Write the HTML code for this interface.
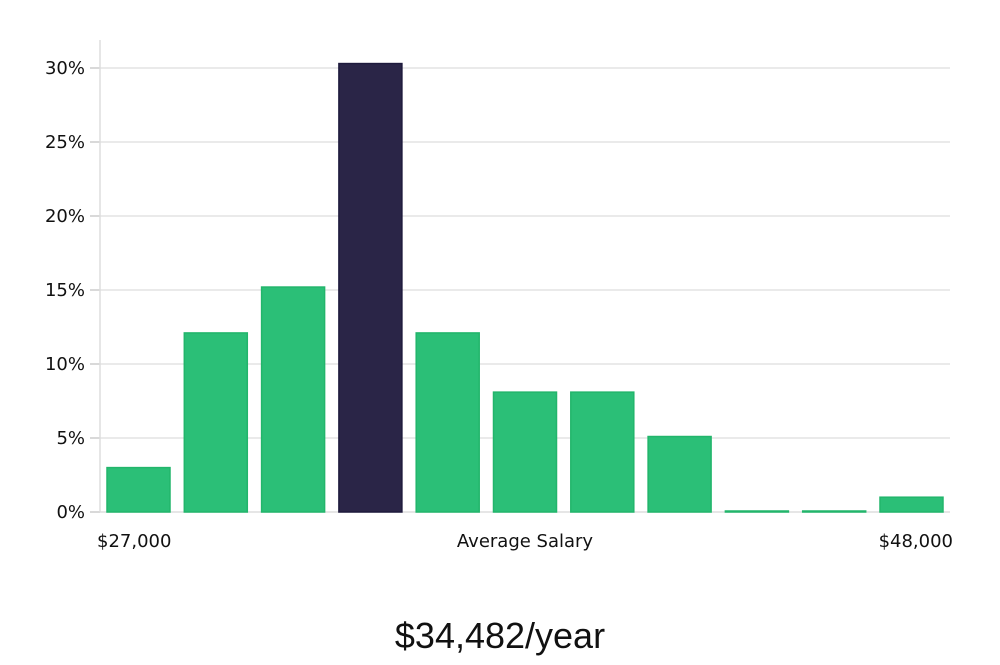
<!DOCTYPE html>
<html><head><meta charset="utf-8"><style>
body{margin:0;background:#fff;width:1000px;height:660px;overflow:hidden}
svg text{font-family:"DejaVu Sans","Liberation Sans",sans-serif}
</style></head><body>
<svg id="chart" width="1000" height="660" xmlns="http://www.w3.org/2000/svg"></svg>
<script>
const categories=["b1","b2","b3","b4","b5","b6","b7","b8","b9","b10","b11"];
const values=[3.0,12.1,15.2,30.3,12.1,8.1,8.1,5.1,0,0,1.0];
const highlight=[false,false,false,true,false,false,false,false,false,false,false];
const yTicks=[0,5,10,15,20,25,30];
const yTickLabels=["0%","5%","10%","15%","20%","25%","30%"];
const NS="http://www.w3.org/2000/svg";
const svg=document.getElementById('chart');
const x0=100,x1=950,yBase=512,pxPer=14.8;
const y=v=>yBase-v*pxPer;
const step=77.3,bw=63,firstX=107;
const xb=i=>firstX+i*step;
function mk(t,a){const e=document.createElementNS(NS,t);for(const k in a)e.setAttribute(k,a[k]);svg.appendChild(e);return e;}
yTicks.forEach((t,i)=>{
 if(t>0){const g=mk('line',{x1:x0,x2:x1,y1:y(t),y2:y(t),stroke:'#e3e3e3','stroke-width':1.5});
 
 }
 const tk=mk('line',{x1:90,x2:x0,y1:y(t),y2:y(t),stroke:'#ccc','stroke-width':1.5});
 
 
 const l=mk('text',{x:85,y:y(t)+6,'text-anchor':'end','font-size':18,fill:'#111'});
 l.textContent=yTickLabels[i];
 
 
});
const ax=mk('line',{x1:x0,x2:x0,y1:40,y2:yBase,stroke:'#ddd','stroke-width':1.5});


const xa=mk('line',{x1:x0,x2:x1,y1:yBase,y2:yBase,stroke:'#ddd','stroke-width':1.5});


values.forEach((v,i)=>{
 const h=Math.max(v*pxPer,1);
 const r=mk('rect',{x:xb(i),y:yBase-h,width:bw,height:h,fill:highlight[i]?'#2a2547':'#2bbf77',stroke:highlight[i]?'#1e1a3d':'#22b56b','stroke-width':1.5});
 
 
});
function txt(s,xx,yy,anchor,size,name,fam){const t=mk('text',{x:xx,y:yy,'text-anchor':anchor,'font-size':size,fill:'#111'});if(fam)t.setAttribute('style','font-family:'+fam);t.textContent=s;
 
 return t;}
txt('$27,000',97,547,'start',18,'x-min-label');
txt('Average Salary',525,547,'middle',18,'x-axis-title');
txt('$48,000',953,547,'end',18,'x-max-label');
txt('$34,482/year',500,648,'middle',36,'average-salary-value','"Liberation Sans",sans-serif');
</script>
</body></html>
